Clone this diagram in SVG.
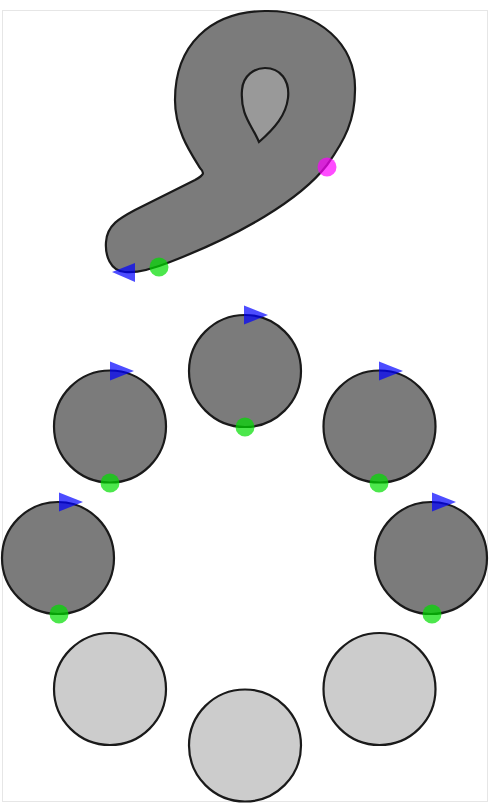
<svg xmlns="http://www.w3.org/2000/svg" xmlns:xlink="http://www.w3.org/1999/xlink" width="491" height="804" viewBox="0 0 491 804">
<style>
.frame{fill:#fff;stroke:#e6e6e6;stroke-width:1}
.dark{fill:#7b7b7b;stroke:#1a1a1a;stroke-width:2.2}
.light{fill:#cccccc;stroke:#1a1a1a;stroke-width:2.2}
.hole{fill:#999999;stroke:#1a1a1a;stroke-width:2.2;stroke-linejoin:miter}
.gdot{fill:#00dd00;fill-opacity:0.7}
.mdot{fill:#ff00ff;fill-opacity:0.7}
.tri{fill:#0000ff;fill-opacity:0.7}
</style>
<defs>
<polygon id="triR" points="0,-9.5 24,0 0,9.5"/>
<circle id="dot" r="9.5"/>
</defs>
<rect class="frame" x="2.5" y="10.5" width="485" height="791"/>
<g id="hook">
<path class="dark" d="M 200,168 C 190,152 175,130 175,100 C 175,45 210,12 265,11 C 320,10 356,45 355,90 C 355,120 345,140 327,165 C 300,200 240,235 170,262 C 150,270 135,273 125,272 C 110,271 105,255 106,242 C 107,225 120,218 135,210 L 195,180 C 204,175 205,173 200,168 Z"/>
<path class="hole" d="M 259,142 C 252,125 240,115 242,90 C 243,75 255,68 265,68 C 280,68 290,80 288,98 C 286,115 275,128 259,142 Z"/>
<use href="#dot" class="mdot" x="327" y="167"/>
<use href="#dot" class="gdot" x="159" y="267"/>
<polygon class="tri" points="112,272 135,263 135,282"/>
</g>
<g id="node-top">
<circle class="dark" cx="245" cy="371" r="56"/>
<use href="#triR" class="tri" x="244" y="315"/>
<use href="#dot" class="gdot" x="245" y="427"/>
</g>
<g id="node-left-upper">
<circle class="dark" cx="110" cy="426.5" r="56"/>
<use href="#triR" class="tri" x="110" y="371"/>
<use href="#dot" class="gdot" x="110" y="483"/>
</g>
<g id="node-right-upper">
<circle class="dark" cx="379.5" cy="426.5" r="56"/>
<use href="#triR" class="tri" x="379" y="371"/>
<use href="#dot" class="gdot" x="379" y="483"/>
</g>
<g id="node-left-lower">
<circle class="dark" cx="58" cy="558" r="56"/>
<use href="#triR" class="tri" x="59" y="502"/>
<use href="#dot" class="gdot" x="59" y="614"/>
</g>
<g id="node-right-lower">
<circle class="dark" cx="431" cy="558" r="56"/>
<use href="#triR" class="tri" x="432" y="502"/>
<use href="#dot" class="gdot" x="432" y="614"/>
</g>
<g id="node-bottom-left">
<circle class="light" cx="110" cy="689" r="56"/>
</g>
<g id="node-bottom-right">
<circle class="light" cx="379.5" cy="689" r="56"/>
</g>
<g id="node-bottom">
<circle class="light" cx="245" cy="745.5" r="56"/>
</g>
<g id="connectors"/>
</svg>
